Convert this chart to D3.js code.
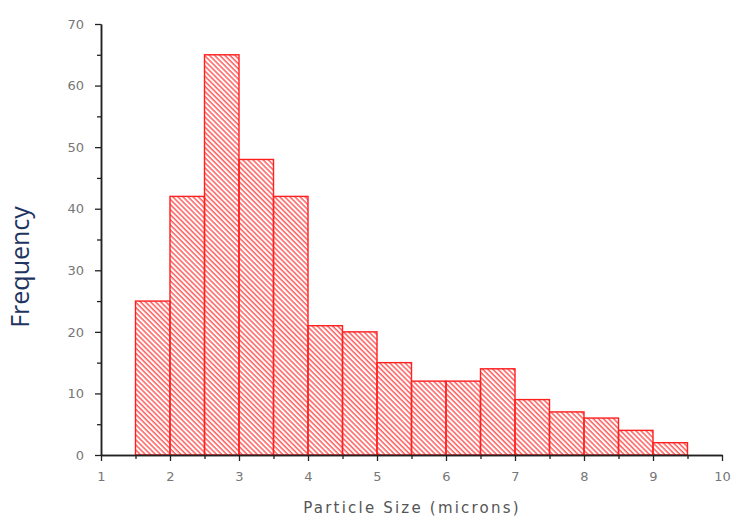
<!DOCTYPE html>
<html>
<head>
<meta charset="utf-8">
<script src="https://cdn.jsdelivr.net/npm/d3@7"></script>
<style>
body { margin: 0; background: #fff; }
</style>
</head>
<body>
<svg id="chart" width="731" height="516"></svg>
<script>
// histogram bins (particle size, microns) and counts
var binStarts = [1.5, 2, 2.5, 3, 3.5, 4, 4.5, 5, 5.5, 6, 6.5, 7, 7.5, 8, 8.5, 9];
var binWidth = 0.5;
var counts = [25, 42, 65, 48, 42, 21, 20, 15, 12, 12, 14, 9, 7, 6, 4, 2];
var xTicks = [1, 2, 3, 4, 5, 6, 7, 8, 9, 10];
var yTicks = [0, 10, 20, 30, 40, 50, 60, 70];

var svg = d3.select("#chart");
var red = "#ff2020";

var x = d3.scaleLinear().domain([1, 10]).range([101, 722]);
var y = d3.scaleLinear().domain([0, 70]).range([455, 24]);

// hatch
var defs = svg.append("defs");
var pat = defs.append("pattern")
	.attr("id", "hatch")
	.attr("patternUnits", "userSpaceOnUse")
	.attr("width", 3.6)
	.attr("height", 3.6)
	.attr("patternTransform", "rotate(-45)");
pat.append("line")
	.attr("x1", 1).attr("y1", 0)
	.attr("x2", 1).attr("y2", 3.6)
	.attr("stroke", red)
	.attr("stroke-width", 1.1);

var bins = binStarts.map(function(s, i) { return { x0: s, x1: s + binWidth, n: counts[i] }; });

svg.append("g")
	.selectAll("rect")
	.data(bins)
	.enter()
	.append("rect")
	.attr("x", function(d) { return x(d.x0); })
	.attr("y", function(d) { return y(d.n); })
	.attr("width", function(d) { return x(d.x1) - x(d.x0); })
	.attr("height", function(d) { return y(0) - y(d.n); })
	.attr("fill", "url(#hatch)")
	.attr("stroke", red)
	.attr("stroke-width", 1.4);

// axes
var xAxis = svg.append("g")
	.attr("transform", "translate(0," + y(0) + ")")
	.call(d3.axisBottom(x).tickValues(xTicks).tickFormat(d3.format("d")).tickSize(6).tickSizeOuter(0));
var xMinor = svg.append("g")
	.attr("transform", "translate(0," + y(0) + ")")
	.call(d3.axisBottom(x).tickValues(d3.range(1.5, 10, 1)).tickFormat("").tickSize(4).tickSizeOuter(0));
var yAxis = svg.append("g")
	.attr("transform", "translate(" + x(1) + ",0)")
	.call(d3.axisLeft(y).tickValues(yTicks).tickSize(6).tickSizeOuter(0));
var yMinor = svg.append("g")
	.attr("transform", "translate(" + x(1) + ",0)")
	.call(d3.axisLeft(y).tickValues(d3.range(5, 70, 10)).tickFormat("").tickSize(4).tickSizeOuter(0));

svg.selectAll(".domain").attr("stroke", "#222").attr("stroke-width", 1.5);
svg.selectAll(".tick line").attr("stroke", "#222").attr("stroke-width", 1.3);
svg.selectAll(".tick text")
	.attr("fill", "#777")
	.style("font-family", "DejaVu Sans, sans-serif")
	.style("font-size", "13px");
xAxis.selectAll(".tick text").attr("dy", "1.3em");
yAxis.selectAll(".tick text").attr("x", -17);

// titles
svg.append("text")
	.attr("x", 412)
	.attr("y", 513)
	.attr("text-anchor", "middle")
	.attr("fill", "#555")
	.style("font-family", "DejaVu Sans, sans-serif")
	.style("font-size", "15px")
	.style("letter-spacing", "2.2px")
	.text("Particle Size (microns)");

svg.append("text")
	.attr("transform", "translate(29,267) rotate(-90)")
	.attr("text-anchor", "middle")
	.attr("fill", "#1f3460")
	.style("font-family", "Open Sans, sans-serif")
	.style("font-size", "25px")
	.text("Frequency");
</script>
</body>
</html>
